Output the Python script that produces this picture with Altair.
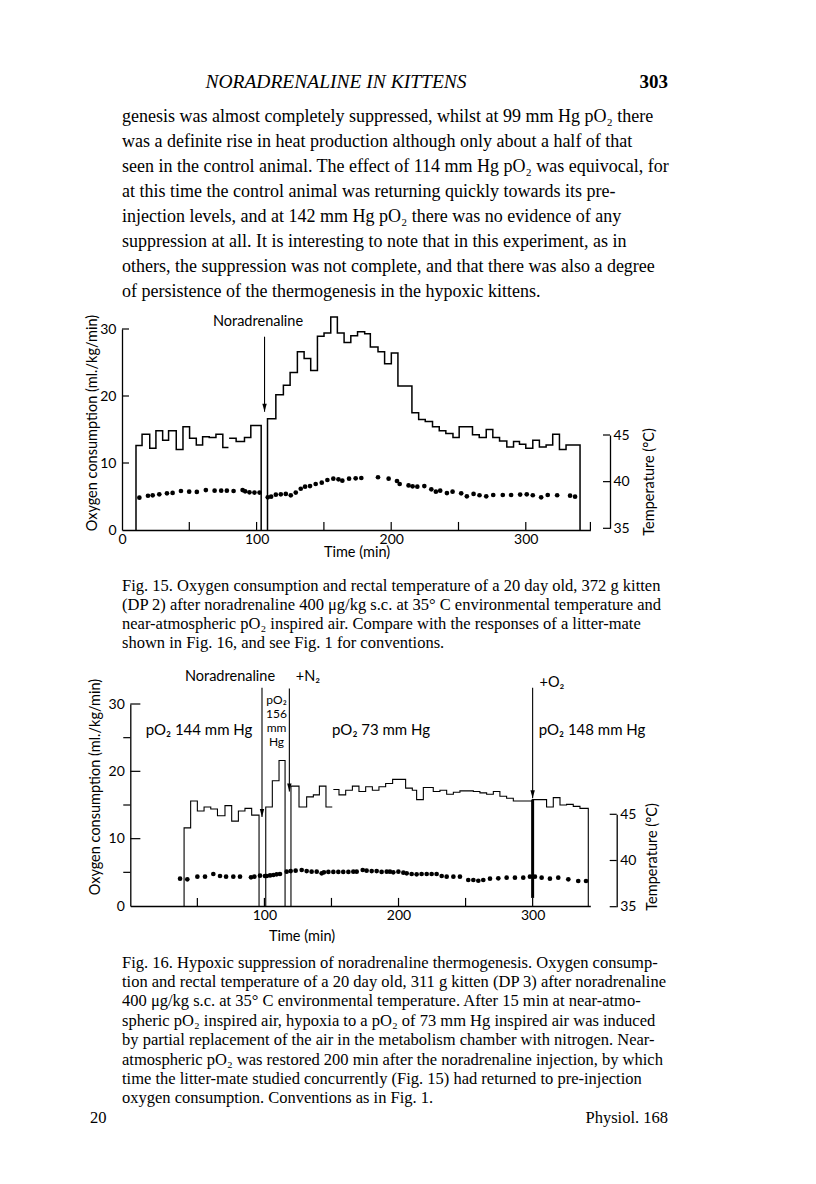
import altair as alt
import pandas as pd

# ---------------- page text ----------------
HEADER_TITLE = "NORADRENALINE IN KITTENS"
PAGE_NO = "303"
PARAGRAPH = [
    "genesis was almost completely suppressed, whilst at 99 mm Hg pO₂ there",
    "was a definite rise in heat production although only about a half of that",
    "seen in the control animal. The effect of 114 mm Hg pO₂ was equivocal, for",
    "at this time the control animal was returning quickly towards its pre-",
    "injection levels, and at 142 mm Hg pO₂ there was no evidence of any",
    "suppression at all. It is interesting to note that in this experiment, as in",
    "others, the suppression was not complete, and that there was also a degree",
    "of persistence of the thermogenesis in the hypoxic kittens.",
]
CAPTION_15 = [
    "Fig. 15. Oxygen consumption and rectal temperature of a 20 day old, 372 g kitten",
    "(DP 2) after noradrenaline 400 μg/kg s.c. at 35° C environmental temperature and",
    "near-atmospheric pO₂ inspired air. Compare with the responses of a litter-mate",
    "shown in Fig. 16, and see Fig. 1 for conventions.",
]
CAPTION_16 = [
    "Fig. 16. Hypoxic suppression of noradrenaline thermogenesis. Oxygen consump-",
    "tion and rectal temperature of a 20 day old, 311 g kitten (DP 3) after noradrenaline",
    "400 μg/kg s.c. at 35° C environmental temperature. After 15 min at near-atmo-",
    "spheric pO₂ inspired air, hypoxia to a pO₂ of 73 mm Hg inspired air was induced",
    "by partial replacement of the air in the metabolism chamber with nitrogen. Near-",
    "atmospheric pO₂ was restored 200 min after the noradrenaline injection, by which",
    "time the litter-mate studied concurrently (Fig. 15) had returned to pre-injection",
    "oxygen consumption. Conventions as in Fig. 1.",
]
FOOT_LEFT = "20"
FOOT_RIGHT = "Physiol. 168"

Y_TITLE = "Oxygen consumption (ml./kg/min)"
T_TITLE = "Temperature (°C)"
X_TITLE = "Time (min)"
INJ_LABEL = "Noradrenaline"
N2_LABEL = "+N₂"
O2_LABEL = "+O₂"
PO2_156 = ["pO₂", "156", "mm", "Hg"]
PO2_144 = "pO₂ 144 mm Hg"
PO2_73 = "pO₂ 73 mm Hg"
PO2_148 = "pO₂ 148 mm Hg"

# ---------------- Fig. 15 data ----------------
F15_S1_T = [10.4, 14.9, 20.6, 25.2, 30.2, 34.6, 40.3, 45.3, 50.2, 55.2, 59.9, 64.8, 69.8, 74.9, 79.1]
F15_S1_V = [12.6, 14.3, 12.2, 14.8, 13.4, 14.8, 12.0, 15.4, 13.7, 12.7, 13.9, 13.8, 14.3, 12.3]
F15_S2_T = [79.6, 84.8, 91.0, 95.7, 103.4]
F15_S2_V = [13.7, 13.2, 13.8, 15.6]
F15_S3_T = [108.1, 114.3, 119.9, 124.9, 130.3, 135.3, 140.2, 145.2, 150.1, 155.1,
            160.0, 165.0, 170.0, 175.0, 180.3, 184.5, 190.2, 195.1, 200.1, 205.0,
            215.4, 220.4, 225.3, 230.7, 235.7, 240.6, 245.9, 250.5, 260.4, 265.4,
            270.6, 275.5, 280.5, 285.9, 290.9, 295.3, 300.0, 305.2, 310.1, 315.1,
            320.0, 325.0, 329.9, 340.3]
F15_S3_V = [16.6, 20.2, 21.6, 23.5, 26.6, 25.6, 23.8, 28.9, 29.4, 31.8,
            29.4, 28.0, 29.0, 29.6, 29.3, 27.3, 26.6, 24.8, 26.4, 21.5,
            17.5, 16.5, 16.2, 15.4, 14.8, 14.4, 13.8, 15.4, 14.2, 13.8,
            15.0, 13.8, 13.3, 12.4, 13.2, 12.8, 12.2, 13.4, 12.4, 12.7,
            14.3, 12.0, 12.7]
F15_TEMP_T = [12.9, 19.3, 22.8, 27.7, 33.4, 37.6, 43.8, 49.9, 55.6, 62.3,
              68.8, 73.7, 77.9, 82.9, 89.6, 91.5, 94.7, 98.4, 102.2, 108.3,
              110.8, 114.3, 118.0, 121.7, 125.4, 129.1, 132.8, 136.0, 139.7, 143.9,
              148.4, 152.6, 157.0, 160.8, 163.7, 168.7, 173.6,
              177.8, 190.2, 198.1, 204.3, 206.3, 212.9, 215.9, 219.4, 224.6, 229.8,
              233.2, 236.4, 241.4, 245.6, 252.0, 256.2, 261.2, 265.6, 270.6, 275.8,
              282.9, 289.1, 295.8, 300.7, 305.2, 311.4, 316.3, 323.3, 332.9, 336.6]
F15_TEMP_V = [38.28, 38.49, 38.53, 38.64, 38.75, 38.79, 39.0, 38.93, 38.9, 39.1,
              39.03, 39.03, 39.03, 39.0, 39.1, 38.96, 38.86, 38.83, 38.83, 38.32,
              38.39, 38.6, 38.64, 38.68, 38.53, 38.83, 39.24, 39.46, 39.53, 39.75,
              39.89, 40.18, 40.32, 40.25, 40.1, 40.32, 40.36,
              40.39, 40.47, 40.32, 40.07, 39.75, 39.6, 39.5, 39.46, 39.53, 39.18,
              38.93, 39.03, 38.78, 38.93, 38.75, 38.43, 38.68, 38.54, 38.43, 38.57,
              38.57, 38.57, 38.61, 38.64, 38.54, 38.32, 38.57, 38.54, 38.5, 38.39]
F15_ARROW_T = [105.9]
F15_ARROW_TOP = [28.85]
F15_ARROW_TIP = [17.65]

# ---------------- Fig. 16 data ----------------
F16_S1_T = [40.1, 45.0, 50.0, 55.0, 60.0, 65.0, 70.6, 75.6, 80.6, 85.5, 90.5, 96.0]
F16_S1_V = [11.6, 15.6, 14.1, 14.7, 14.4, 13.4, 14.9, 12.6, 14.1, 14.5, 13.5]
F16_S2_T = [101.0, 105.9, 110.9, 115.4]
F16_S2_V = [14.7, 18.6, 21.6]
F16_S3_T = [119.8, 125.8, 131.5, 136.5, 141.0, 145.9, 150.6]
F16_S3_V = [17.8, 14.7, 16.2, 16.5, 17.8, 14.7]
F16_S4_T = [151.4, 155.6, 160.6, 165.6, 170.5, 175.5, 180.5, 185.4, 190.4, 195.6,
            205.3, 210.3, 213.5, 218.5, 225.9, 230.9, 235.9, 240.9, 245.8, 255.8,
            260.7, 265.7, 270.7, 275.6, 280.6, 285.6, 300.0, 310.4, 315.4, 320.4,
            325.3, 330.3, 335.3, 341.5]
F16_S4_V = [17.3, 16.5, 17.2, 17.8, 17.0, 17.7, 17.2, 17.7, 18.2, 18.8,
            17.5, 17.2, 15.8, 17.6, 17.0, 17.2, 16.6, 16.9, 17.1, 17.0,
            16.8, 16.6, 17.0, 16.3, 16.0, 15.6, 15.8, 14.7, 16.1, 15.0,
            15.1, 14.8, 14.5]
F16_TEMP_T = [37.1, 42.5, 50.0, 55.7, 61.9, 66.9, 71.4, 76.8, 81.8, 90.0,
              92.5, 96.7, 100.4, 101.7, 104.2, 106.7, 109.1, 111.6, 116.6, 119.6,
              123.3, 127.8, 131.5, 135.2, 139.0, 142.7, 144.4, 147.7, 151.4, 155.1,
              158.8, 162.6, 166.3, 168.8, 173.3, 176.2, 180.0, 183.7, 187.4, 191.2,
              193.6, 196.1, 199.9, 203.6, 206.1, 209.8, 213.5, 217.2, 221.0, 224.7,
              228.4, 232.2, 235.9, 240.9, 245.8, 252.0, 255.8, 259.5, 263.2, 268.2,
              274.4, 280.6, 286.8, 293.0, 298.0, 301.7, 306.7, 312.9, 319.1, 326.6,
              334.0, 339.8]
F16_TEMP_V = [38.03, 37.96, 38.25, 38.25, 38.54, 38.32, 38.25, 38.25, 38.25, 38.18,
              38.25, 38.36, 38.32, 38.32, 38.39, 38.43, 38.50, 38.54, 38.79, 38.86,
              38.90, 38.97, 38.86, 38.79, 38.79, 38.61, 38.72, 38.76, 38.76, 38.76,
              38.76, 38.76, 38.79, 38.79, 38.97, 38.90, 38.86, 38.86, 38.76, 38.79,
              38.79, 38.72, 38.79, 38.68, 38.61, 38.54, 38.50, 38.54, 38.54, 38.54,
              38.54, 38.32, 38.25, 38.25, 38.25, 37.89, 37.89, 37.81, 37.89, 38.03,
              38.07, 38.14, 38.14, 38.14, 38.25, 38.25, 38.14, 38.03, 38.14, 37.96,
              37.78, 37.78]
F16_ARROW_T = [98.2, 118.6, 300.0]
F16_ARROW_TOP = [32.4, 32.3, 32.4]
F16_ARROW_TIP = [13.2, 17.0, 16.0]
F16_MARK_T = [300.0]
F16_MARK_LO = [1.2]
F16_MARK_HI = [15.8]

X15_TICKS = [50, 100, 150, 200, 250, 300, 348]
X15_LABELS = [0, 100, 200, 300]
X16_TICKS = [50, 100, 150, 200, 250, 300]
X16_LABELS = [100, 200, 300]
Y_MAJOR = [10, 20, 30]
Y_MINOR = [5, 15, 25]
Y_LABELS = [0, 10, 20, 30]
T_TICKS = [35, 40, 45]

SERIF = "Liberation Serif"
SANS = "Lato"
W = 800
HA = 653
HB = 515


def step_frame(segments):
    rows = []
    i = 0
    for k, (T, V, rise, drop) in enumerate(segments):
        pts = []
        if rise:
            pts.append((T[0], 0.0))
        for t, v in zip(T[:-1], V):
            pts.append((t, v))
        pts.append((T[-1], 0.0 if drop else V[-1]))
        for t, v in pts:
            rows.append({"t": t, "v": v, "seg": k, "i": i})
            i += 1
    return pd.DataFrame(rows)


def text(lines, x, y, size, font=SANS, align="left", baseline="alphabetic",
         lh=None, angle=None, style=None, weight=None):
    kw = dict(text=lines, align=align, baseline=baseline, font=font,
              fontSize=size, color="black")
    if lh is not None:
        kw["lineHeight"] = lh
    if angle is not None:
        kw["angle"] = angle
    if style is not None:
        kw["fontStyle"] = style
    if weight is not None:
        kw["fontWeight"] = weight
    return alt.Chart(pd.DataFrame({"k": [0]})).mark_text(**kw).encode(
        x=alt.value(x), y=alt.value(y))


def figure(segs, temp_t, temp_v, arrows, sx, sy, st, ax_x, ax_y, ax_t,
           x_ticks, y_major_len, tick_len, t_tick_x, lw, minor=False, marks=None):
    X = lambda f: alt.X(f, scale=sx, axis=ax_x)
    Y = lambda f: alt.Y(f, scale=sy, axis=ax_y)
    steps = alt.Chart(step_frame(segs)).mark_line(
        interpolate="step-after", color="black", strokeWidth=lw).encode(
        x=X("t:Q"), y=Y("v:Q"), detail="seg:N", order="i:Q")
    xt = alt.Chart(pd.DataFrame({"t": x_ticks})).transform_calculate(
        y0="0", y1=str(tick_len)).mark_rule(color="black", strokeWidth=1.2).encode(
        x=X("t:Q"), y=Y("y0:Q"), y2="y1:Q")
    yt = alt.Chart(pd.DataFrame({"v": Y_MAJOR})).transform_calculate(
        x0="0", x1=str(y_major_len)).mark_rule(color="black", strokeWidth=1.2).encode(
        x=X("x0:Q"), x2="x1:Q", y=Y("v:Q"))
    at, atop, atip = arrows
    adf = pd.DataFrame({"t": at, "top": atop, "tip": atip})
    arule = alt.Chart(adf).mark_rule(color="black", strokeWidth=1.1).encode(
        x=X("t:Q"), y=Y("top:Q"), y2="tip:Q")
    ahead = alt.Chart(adf).mark_point(
        shape="M-0.55,-1L0.55,-1L0,1Z", filled=True, color="black", opacity=1,
        size=64, yOffset=-4).encode(x=X("t:Q"), y=Y("tip:Q"))
    o2_layers = [steps, xt, yt, arule, ahead]
    if minor:
        ym = alt.Chart(pd.DataFrame({"v": Y_MINOR})).transform_calculate(
            x0=str(-y_major_len * 0.7), x1="0").mark_rule(
            color="black", strokeWidth=1.2).encode(
            x=X("x0:Q"), x2="x1:Q", y=Y("v:Q"))
        o2_layers.append(ym)
    if marks is not None:
        mt, mlo, mhi = marks
        mdf = pd.DataFrame({"t": mt, "lo": mlo, "hi": mhi})
        o2_layers.append(alt.Chart(mdf).mark_rule(color="black", strokeWidth=3).encode(
            x=X("t:Q"), y=Y("lo:Q"), y2="hi:Q"))
    o2 = alt.layer(*o2_layers)
    dots = alt.Chart(pd.DataFrame({"t": temp_t, "temp": temp_v})).mark_circle(
        color="black", opacity=1, size=22).encode(
        x=X("t:Q"), y=alt.Y("temp:Q", scale=st, axis=ax_t))
    tt = alt.Chart(pd.DataFrame({"temp": T_TICKS})).mark_rule(
        color="black", strokeWidth=1.2).encode(
        x=alt.value(t_tick_x - 7), x2=alt.value(t_tick_x),
        y=alt.Y("temp:Q", scale=st, axis=ax_t))
    temp = alt.layer(dots, tt)
    return alt.layer(o2, temp).resolve_scale(y="independent")


def axis(orient, offset, values, pad):
    return alt.Axis(orient=orient, offset=offset, values=values, ticks=False,
                    grid=False, labelPadding=pad, labelFlush=False,
                    labelOverlap=False, title=None, domainColor="black",
                    domainWidth=1.3, labelColor="black", labelFont=SANS,
                    labelFontSize=14)


# ---------------- chart A (top half of page) ----------------
sx15 = alt.Scale(domain=[0, 348], range=[114.0, 582.4], nice=False, zero=False)
sy15 = alt.Scale(domain=[0, 30], range=[522, 321], nice=False, zero=False)
st15 = alt.Scale(domain=[35, 45], range=[520.3, 427], nice=False, zero=False)

fig15 = figure(
    [(F15_S1_T, F15_S1_V, True, False), (F15_S2_T, F15_S2_V, False, True),
     (F15_S3_T, F15_S3_V, True, True)],
    F15_TEMP_T, F15_TEMP_V, (F15_ARROW_T, F15_ARROW_TOP, F15_ARROW_TIP),
    sx15, sy15, st15,
    axis("bottom", 522 - HA, X15_LABELS, 2),
    axis("left", -114.0, Y_LABELS, 6),
    axis("right", 602 - W, T_TICKS, 3),
    X15_TICKS, 5.2, 1.2, 602, 1.5)

chartA = alt.layer(
    text(HEADER_TITLE, 328, 80, 19.5, SERIF, "center", style="italic"),
    text(PAGE_NO, 660, 80, 19, SERIF, "right", weight="bold"),
    text(PARAGRAPH, 114, 113.5, 18, SERIF, lh=25),
    fig15,
    text(INJ_LABEL, 250, 314, 14.5, align="center", baseline="middle"),
    text(X_TITLE, 349, 545, 14.5, align="center", baseline="middle"),
    text(Y_TITLE, 85, 415, 14.5, align="center", baseline="middle", angle=270),
    text(T_TITLE, 642, 474, 14.5, align="center", baseline="middle", angle=270),
    text(CAPTION_15, 114, 582.5, 16.5, SERIF, lh=19.2),
).properties(width=W, height=HA)

# ---------------- chart B (bottom half of page) ----------------
sx16 = alt.Scale(domain=[0, 343], range=[122.3, 582.3], nice=False, zero=False)
sy16 = alt.Scale(domain=[0, 30], range=[245, 43], nice=False, zero=False)
st16 = alt.Scale(domain=[35, 45], range=[245.7, 153.3], nice=False, zero=False)

fig16 = figure(
    [(F16_S1_T, F16_S1_V, True, True), (F16_S2_T, F16_S2_V, True, True),
     (F16_S3_T, F16_S3_V, True, False), (F16_S4_T, F16_S4_V, False, True)],
    F16_TEMP_T, F16_TEMP_V, (F16_ARROW_T, F16_ARROW_TOP, F16_ARROW_TIP),
    sx16, sy16, st16,
    axis("bottom", 245 - HB, X16_LABELS, 2),
    axis("left", -122.3, Y_LABELS, 6),
    axis("right", 608.7 - W, T_TICKS, 3),
    X16_TICKS, 7.5, 1.2, 608.7, 1.1, minor=True,
    marks=(F16_MARK_T, F16_MARK_LO, F16_MARK_HI))

chartB = alt.layer(
    fig16,
    text(INJ_LABEL, 222, 16, 14.5, align="center", baseline="middle"),
    text(N2_LABEL, 300, 16, 14.5, align="center", baseline="middle"),
    text(PO2_156, 268.5, 43, 12, align="center", lh=14),
    text(PO2_144, 191, 69, 15, align="center", baseline="middle"),
    text(PO2_73, 373, 69, 15, align="center", baseline="middle"),
    text(PO2_148, 584, 69, 15, align="center", baseline="middle"),
    text(O2_LABEL, 544, 22, 14.5, align="center", baseline="middle"),
    text(X_TITLE, 294, 276, 14.5, align="center", baseline="middle"),
    text(Y_TITLE, 88, 126, 14.5, align="center", baseline="middle", angle=270),
    text(T_TITLE, 645, 196, 14.5, align="center", baseline="middle", angle=270),
    text(CAPTION_16, 114, 306.5, 16.5, SERIF, lh=19.4),
    text(FOOT_LEFT, 82, 461.5, 16.5, SERIF),
    text(FOOT_RIGHT, 660, 461.5, 16.5, SERIF, "right"),
).properties(width=W, height=HB)

chart = alt.vconcat(chartA, chartB, spacing=0, bounds="flush").properties(
    padding=0, background="white"
).configure_view(stroke=None)

chart.save("out.html", embed_options={"renderer": "svg", "actions": False})
